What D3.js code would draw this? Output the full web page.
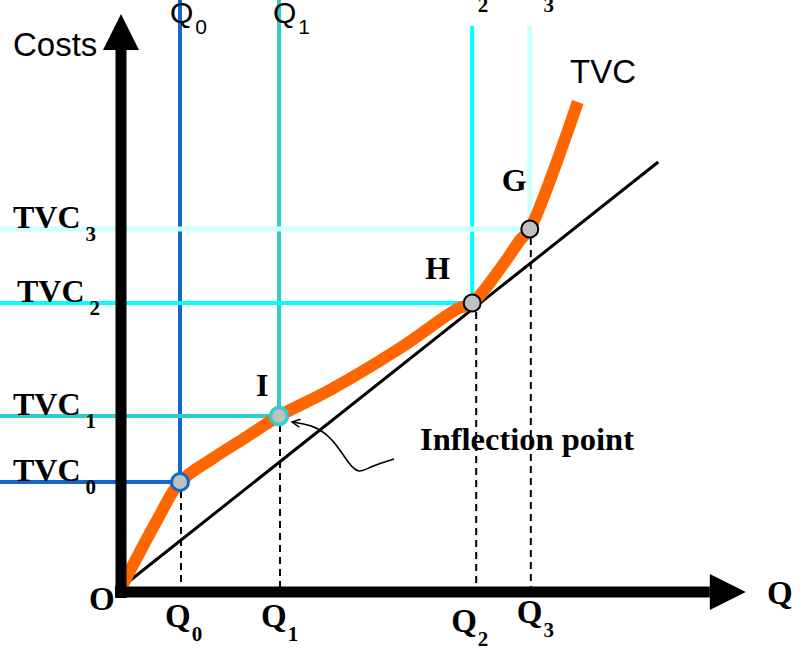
<!DOCTYPE html>
<html>
<head>
<meta charset="utf-8">
<script src="https://cdn.jsdelivr.net/npm/d3@7"></script>
<style>
  body { margin: 0; background: #fff; }
  svg { display: block; }
</style>
</head>
<body>
<div id="vis"></div>
<script>

var width = 808;
var height = 650;

// quantity levels and matching TVC levels
var qNames = ['Q0', 'Q1', 'Q2', 'Q3'];
var qValues = [1.0, 2.65, 5.87, 6.83];
var tvcNames = ['TVC0', 'TVC1', 'TVC2', 'TVC3'];
var tvcValues = [2.16, 3.48, 5.74, 7.22];
var pointNames = ['', 'I', 'H', 'G'];

// TVC curve
var curveQ = [0, 0.62, 1.0, 1.53, 2.08, 2.65, 3.5, 4.67, 5.62, 5.87, 6.38, 6.67, 6.83, 7.63];
var curveC = [0, 1.4, 2.16, 2.62, 3.04, 3.48, 4.0, 4.84, 5.62, 5.74, 6.5, 7.0, 7.22, 9.76];

// straight ray from the origin
var rayQ = [0.03, 8.97];
var rayC = [0.06, 8.56];

var qMax = 10.43;
var cMax = 11.52;

var guideColors = ['#1068cc', '#33cccc', '#00ffff', '#ccffff'];
var guideWidths = [4, 4, 4, 5];
var markerStrokes = ['#1068cc', '#33cccc', '#000', '#000'];
var markerWidths = [3, 3.5, 2, 2];

var sans = '"Liberation Sans", Arial, sans-serif';
var serif = '"Liberation Serif", "Times New Roman", serif';

var x = d3.scaleLinear().domain([0, 10.5]).range([120, 750]);
var y = d3.scaleLinear().domain([0, 11.5]).range([590, 15]);

var svg = d3.select('#vis')
  .append('svg')
  .attr('width', width)
  .attr('height', height);

var pts = qValues.map(function (q, i) {
  return { q: q, c: tvcValues[i], i: i };
});

// coloured guide lines
var guides = svg.append('g');
pts.forEach(function (d) {
  guides.append('line')
    .attr('x1', x(d.q)).attr('x2', x(d.q))
    .attr('y1', d.i < 2 ? 0 : 26).attr('y2', y(d.c))
    .attr('stroke', guideColors[d.i])
    .attr('stroke-width', guideWidths[d.i]);
  guides.append('line')
    .attr('x1', 0).attr('x2', x(d.q))
    .attr('y1', y(d.c)).attr('y2', y(d.c))
    .attr('stroke', guideColors[d.i])
    .attr('stroke-width', guideWidths[d.i]);
});

// dashed drops to the Q axis
svg.append('g').selectAll('line')
  .data(pts)
  .enter().append('line')
  .attr('x1', function (d) { return x(d.q) + (d.i === 2 ? 4 : 1); })
  .attr('x2', function (d) { return x(d.q) + (d.i === 2 ? 4 : 1); })
  .attr('y1', function (d) { return y(d.c) + 9; })
  .attr('y2', y(0) - 3)
  .attr('stroke', '#000')
  .attr('stroke-width', 2)
  .attr('stroke-dasharray', '7,5');

// ray
svg.append('line')
  .attr('x1', x(rayQ[0])).attr('y1', y(rayC[0]))
  .attr('x2', x(rayQ[1])).attr('y2', y(rayC[1]))
  .attr('stroke', '#000')
  .attr('stroke-width', 3);

// TVC curve
var curveData = curveQ.map(function (q, i) { return [q, curveC[i]]; });
var line = d3.line()
  .x(function (d) { return x(d[0]); })
  .y(function (d) { return y(d[1]); })
  .curve(d3.curveCatmullRom.alpha(0.5));

svg.append('path')
  .attr('d', line(curveData))
  .attr('fill', 'none')
  .attr('stroke', '#ff6600')
  .attr('stroke-width', 12);

// axes as thick arrows
var ax = x(0) + 1;
var ay = y(0) + 2;
svg.append('line')
  .attr('x1', ax).attr('x2', ax)
  .attr('y1', ay + 6).attr('y2', y(cMax) + 36)
  .attr('stroke', '#000').attr('stroke-width', 11);
svg.append('path')
  .attr('d', 'M' + (ax - 18) + ',' + (y(cMax) + 36) + 'L' + (ax + 18) + ',' + (y(cMax) + 36) + 'L' + ax + ',' + y(cMax) + 'Z')
  .attr('fill', '#000');
svg.append('line')
  .attr('x1', ax - 6).attr('x2', x(qMax) - 36)
  .attr('y1', ay).attr('y2', ay)
  .attr('stroke', '#000').attr('stroke-width', 11);
svg.append('path')
  .attr('d', 'M' + (x(qMax) - 36) + ',' + (ay - 18) + 'L' + (x(qMax) - 36) + ',' + (ay + 18) + 'L' + x(qMax) + ',' + ay + 'Z')
  .attr('fill', '#000');

// points
svg.append('g').selectAll('circle')
  .data(pts)
  .enter().append('circle')
  .attr('cx', function (d) { return x(d.q); })
  .attr('cy', function (d) { return y(d.c); })
  .attr('r', 8.5)
  .attr('fill', '#c0c0c0')
  .attr('stroke', function (d) { return markerStrokes[d.i]; })
  .attr('stroke-width', function (d) { return markerWidths[d.i]; });

// inflection arrow
svg.append('defs').append('marker')
  .attr('id', 'head')
  .attr('viewBox', '0 0 10 10')
  .attr('refX', 9).attr('refY', 5)
  .attr('markerWidth', 10).attr('markerHeight', 10)
  .attr('markerUnits', 'userSpaceOnUse')
  .attr('orient', 'auto')
  .append('path')
  .attr('d', 'M1,1L9,5L1,9')
  .attr('fill', 'none')
  .attr('stroke', '#000')
  .attr('stroke-width', 1.5);

var ix = x(qValues[1]);
var iy = y(tvcValues[1]);
var arrowPts = [[115, 43], [92, 50], [80, 58], [70, 48], [60, 32], [47, 17], [32, 9], [13, 6]];
svg.append('path')
  .attr('d', d3.line().curve(d3.curveBasis)(arrowPts.map(function (p) { return [ix + p[0], iy + p[1]]; })))
  .attr('fill', 'none')
  .attr('stroke', '#000')
  .attr('stroke-width', 1.6)
  .attr('marker-end', 'url(#head)');

// text helper with subscript
function subText(px, py, main, sub, family, size, subSize, subDy, subDx, weight) {
  var t = svg.append('text')
    .attr('x', px).attr('y', py)
    .attr('font-family', family)
    .attr('font-size', size)
    .attr('font-weight', weight)
    .attr('fill', '#000');
  t.append('tspan').text(main);
  if (sub !== '') {
    t.append('tspan')
      .attr('dx', subDx).attr('dy', subDy)
      .attr('font-size', subSize)
      .text(sub);
  }
  return t;
}

// TVC labels on the left
var tvcLabelX = [13, 13, 17, 13];
tvcNames.forEach(function (n, i) {
  subText(tvcLabelX[i], y(tvcValues[i]) - 1, 'TVC', n.slice(3), serif, 32, 21, 13, 5, 'bold');
});

// Q labels below the axis
var qLabelDx = [-15, -18, -21, -13];
var qLabelY = [627, 627, 632, 623];
qNames.forEach(function (n, i) {
  subText(x(qValues[i]) + qLabelDx[i], qLabelY[i], 'Q', n.slice(1), serif, 33, 21, 14, 1, 'bold');
});

// Q labels at the top (sans for Q0, Q1, serif cut off for Q2, Q3)
subText(x(qValues[0]) - 10, 23, 'Q', '0', sans, 30, 21, 11, 2, 'normal');
subText(x(qValues[1]) - 6, 23, 'Q', '1', sans, 30, 21, 11, 2, 'normal');
subText(x(qValues[2]) - 21, -7, 'Q', '2', serif, 33, 21, 19, 1, 'bold');
subText(x(qValues[3]) - 13, -7, 'Q', '3', serif, 33, 21, 19, 1, 'bold');

// point labels
var pLabelDx = [0, -23, -47, -28];
var pLabelDy = [0, -20, -24, -38];
pts.forEach(function (d) {
  if (pointNames[d.i] === '') return;
  subText(x(d.q) + pLabelDx[d.i], y(d.c) + pLabelDy[d.i], pointNames[d.i], '', serif, 32, 0, 0, 0, 'bold');
});

subText(420, 450, 'Inflection point', '', serif, 32.5, 0, 0, 0, 'bold');
subText(13, 56, 'Costs', '', sans, 33, 0, 0, 0, 'normal');
subText(570, 83, 'TVC', '', sans, 33, 0, 0, 0, 'normal');
subText(89, 610, 'O', '', serif, 33, 0, 0, 0, 'bold');
subText(767, 604, 'Q', '', serif, 33, 0, 0, 0, 'bold');

</script>
</body>
</html>
